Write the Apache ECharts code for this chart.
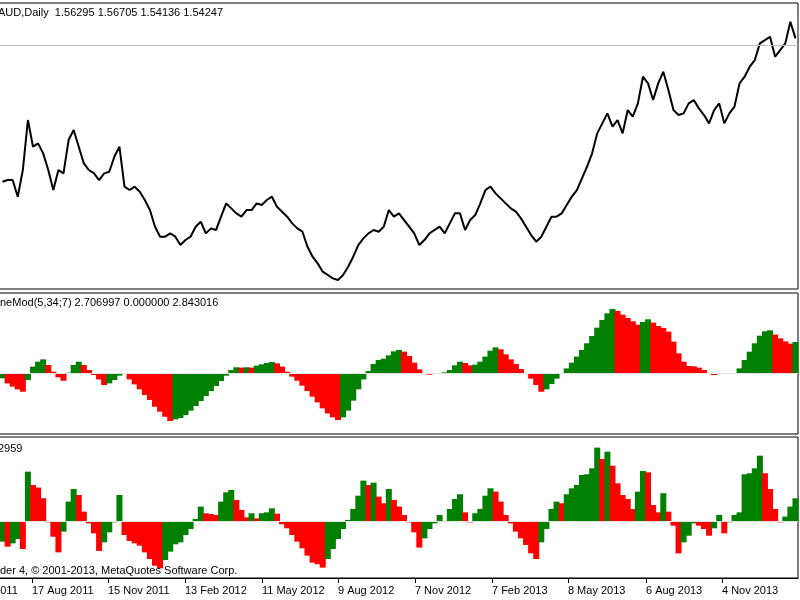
<html>

<head>
    <meta charset="utf-8" />
    <style>
        html, body { margin: 0; padding: 0; background: #fff; overflow: hidden; }
    </style>
</head>

<body>
    <!-- the chart is 50px wider than the page and shifted left, so the first date label is cut like in the original -->
    <div id="chart" style="position:absolute;left:-50px;top:0;width:850px;height:600px"></div>
    <script src="https://cdn.jsdelivr.net/npm/echarts@6/dist/echarts.min.js"></script>
    <script>
        // close price, one point every ~5px of the picture
        var priceClose = [
            1.3277, 1.3303, 1.3303, 1.3043, 1.3459, 1.4239, 1.3823, 1.3875, 1.3719, 1.3459,
            1.3147, 1.3459, 1.3407, 1.3927, 1.4083, 1.3823, 1.3563, 1.3459, 1.3407, 1.3303,
            1.3407, 1.3433, 1.3667, 1.3823, 1.3199, 1.3147, 1.3199, 1.3121, 1.2991, 1.2835,
            1.2575, 1.2419, 1.2419, 1.2471, 1.2419, 1.2289, 1.2367, 1.2419, 1.2575, 1.2653,
            1.2471, 1.2549, 1.2523, 1.2731, 1.2939, 1.2861, 1.2783, 1.2731, 1.2835, 1.2835,
            1.2939, 1.2913, 1.2991, 1.3043, 1.2887, 1.2809, 1.2731, 1.2627, 1.2549, 1.2497,
            1.2263, 1.2107, 1.2003, 1.1873, 1.1821, 1.1769, 1.1743, 1.1821, 1.1951, 1.2107,
            1.2289, 1.2393, 1.2471, 1.2523, 1.2497, 1.2575, 1.2835, 1.2731, 1.2783, 1.2679,
            1.2575, 1.2471, 1.2289, 1.2367, 1.2471, 1.2523, 1.2575, 1.2471, 1.2627, 1.2783,
            1.2783, 1.2523, 1.2679, 1.2757, 1.2939, 1.3147, 1.3199, 1.3095, 1.3017, 1.2939,
            1.2861, 1.2809, 1.2705, 1.2575, 1.2445, 1.2341, 1.2419, 1.2575, 1.2731, 1.2731,
            1.2783, 1.2913, 1.3043, 1.3147, 1.3329, 1.3511, 1.3719, 1.4031, 1.4187, 1.4343,
            1.4135, 1.4239, 1.4031, 1.4395, 1.4291, 1.4499, 1.4915, 1.4811, 1.4551, 1.4811,
            1.4993, 1.4707, 1.4395, 1.4317, 1.4343, 1.4499, 1.4551, 1.4421, 1.4317, 1.4187,
            1.4395, 1.4499, 1.4187, 1.4343, 1.4447, 1.4811, 1.4915, 1.5071, 1.5175, 1.5435,
            1.5487, 1.5539, 1.5227, 1.5331, 1.5435, 1.5773, 1.5513
        ];
        // AwesomeMod(5,34;7)
        var aoValues = [
            -0.45, -0.91, -1.21, -1.45, -1.67, -0.61, 0.61, 1.06, 1.27, 0.76,
            0.15, -0.36, -0.67, 0.06, 0.76, 1.06, 0.76, 0.30, -0.15, -0.55,
            -1.06, -0.91, -0.61, -0.21, -0.03, -0.55, -1.00, -1.45, -1.97, -2.42,
            -3.03, -3.48, -3.94, -4.33, -4.18, -4.06, -3.79, -3.39, -2.97, -2.52,
            -2.06, -1.61, -1.15, -0.70, -0.21, 0.30, 0.55, 0.52, 0.55, 0.52,
            0.70, 0.82, 0.94, 1.03, 0.91, 0.61, 0.15, -0.30, -0.67, -1.12,
            -1.61, -2.12, -2.64, -3.18, -3.64, -4.00, -4.24, -4.00, -3.39, -2.48,
            -1.45, -0.55, 0.21, 0.85, 1.21, 1.33, 1.64, 2.00, 2.12, 1.97,
            1.58, 0.97, 0.36, -0.06, -0.12, -0.06, 0.03, 0.09, 0.30, 0.73,
            1.06, 0.94, 0.73, 0.79, 1.06, 1.52, 2.06, 2.36, 2.18, 1.73,
            1.27, 0.85, 0.39, -0.06, -0.48, -1.06, -1.67, -1.45, -0.97, -0.48,
            0.00, 0.45, 0.97, 1.52, 2.12, 2.73, 3.39, 4.15, 4.85, 5.45,
            5.85, 5.67, 5.33, 5.03, 4.73, 4.42, 4.67, 4.91, 4.61, 4.30,
            4.12, 3.79, 2.88, 1.82, 1.06, 0.67, 0.64, 0.52, 0.30, 0.00,
            -0.15, -0.03, -0.06, 0.00, 0.00, 0.45, 1.21, 1.97, 2.73, 3.42,
            3.82, 3.91, 3.52, 3.18, 2.91, 2.70, 2.85
        ];
        // lower oscillator
        var acValues = [
            -0.0198, -0.0248, -0.0215, -0.0172, -0.0271, 0.0495, 0.0363, 0.0337, 0.0231, -0.0007,
            -0.0149, -0.0304, -0.0099, 0.0198, 0.0323, 0.0264, 0.0099, -0.0017, -0.0116, -0.0290,
            -0.0205, -0.0106, -0.0007, 0.0264, -0.0132, -0.0191, -0.0215, -0.0238, -0.0304, -0.0370,
            -0.0436, -0.0462, -0.0380, -0.0297, -0.0224, -0.0205, -0.0132, -0.0073, 0.0026, 0.0149,
            0.0083, 0.0076, 0.0066, 0.0198, 0.0290, 0.0314, 0.0215, 0.0116, 0.0043, 0.0083,
            0.0033, 0.0083, 0.0092, 0.0132, 0.0079, -0.0026, -0.0066, -0.0132, -0.0198, -0.0264,
            -0.0337, -0.0406, -0.0422, -0.0455, -0.0370, -0.0271, -0.0172, -0.0073, 0.0017, 0.0125,
            0.0257, 0.0406, 0.0363, 0.0386, 0.0248, 0.0182, 0.0323, 0.0215, 0.0149, 0.0066,
            -0.0007, -0.0106, -0.0257, -0.0165, -0.0073, -0.0017, 0.0066, 0.0007, 0.0125, 0.0224,
            0.0271, 0.0092, -0.0007, 0.0083, 0.0125, 0.0257, 0.0330, 0.0297, 0.0198, 0.0066,
            -0.0017, -0.0099, -0.0165, -0.0231, -0.0314, -0.0370, -0.0205, -0.0073, 0.0125, 0.0198,
            0.0182, 0.0271, 0.0330, 0.0363, 0.0462, 0.0469, 0.0528, 0.0733, 0.0620, 0.0693,
            0.0554, 0.0380, 0.0264, 0.0224, 0.0125, 0.0297, 0.0502, 0.0488, 0.0165, 0.0092,
            0.0281, 0.0099, -0.0040, -0.0314, -0.0205, -0.0139, -0.0017, -0.0040, -0.0073, -0.0139,
            -0.0066, 0.0066, -0.0116, -0.0007, 0.0066, 0.0092, 0.0469, 0.0479, 0.0528, 0.0653,
            0.0479, 0.0323, 0.0125, -0.0007, 0.0050, 0.0149, 0.0231
        ];
        // date labels and where they sit on the bar index scale
        var tickDates = ['19 May 2011', '17 Aug 2011', '15 Nov 2011', '13 Feb 2012', '11 May 2012', '9 Aug 2012',
            '7 Nov 2012', '7 Feb 2013', '8 May 2013', '6 Aug 2013', '4 Nov 2013'];
        var tickAt = [-9.35, 5.8, 20.75, 35.9, 51.04, 66.0, 81.14, 96.29, 111.24, 126.59, 141.54];
        var bidPrice = 1.5425;

        var FONT = 'Liberation Sans';
        var xMin = -10.33, xMax = 156.5;
        var SHIFT = 50; // chart canvas starts 50px left of the page

        function indexed(arr) {
            return arr.map(function (v, i) { return [i, v]; });
        }
        function upDown(arr) {
            return function (p) {
                var i = p.dataIndex;
                if (i === 0) return arr[1] > arr[0] ? '#ff0000' : '#008000';
                return arr[i] >= arr[i - 1] ? '#008000' : '#ff0000';
            };
        }
        function zeroLine() {
            return {
                silent: true, symbol: 'none', animation: false,
                label: { show: false },
                lineStyle: { color: '#e4e4e4', width: 1, type: 'solid' },
                data: [{ yAxis: 0 }]
            };
        }

        var chart = echarts.init(document.getElementById('chart'), null, { renderer: 'canvas' });
        var hiddenX = { type: 'value', min: xMin, max: xMax, show: false };
        var option = {
            animation: false,
            backgroundColor: '#ffffff',
            grid: [
                { left: 0, right: 2, top: 3, height: 286, show: true, borderColor: '#000', borderWidth: 1, backgroundColor: '#fff' },
                { left: 0, right: 2, top: 293, height: 141, show: true, borderColor: '#000', borderWidth: 1, backgroundColor: '#fff' },
                { left: 0, right: 2, top: 437, height: 141, show: true, borderColor: '#000', borderWidth: 1, backgroundColor: '#fff' }
            ],
            xAxis: [
                Object.assign({ gridIndex: 0 }, hiddenX),
                Object.assign({ gridIndex: 1 }, hiddenX),
                {
                    gridIndex: 2, type: 'value', min: xMin, max: xMax, position: 'bottom',
                    splitLine: { show: false },
                    axisLine: { show: true, onZero: false, lineStyle: { color: '#000', width: 1 } },
                    axisTick: { show: true, inside: false, customValues: tickAt, length: 5, lineStyle: { color: '#000' } },
                    axisLabel: {
                        customValues: tickAt, align: 'left', margin: 7,
                        fontFamily: FONT, fontSize: 11, color: '#000',
                        formatter: function (v) {
                            var best = 0;
                            for (var i = 1; i < tickAt.length; i++) {
                                if (Math.abs(tickAt[i] - v) < Math.abs(tickAt[best] - v)) best = i;
                            }
                            return tickDates[best];
                        }
                    }
                }
            ],
            yAxis: [
                { gridIndex: 0, type: 'value', min: 1.1603, max: 1.6065, show: false },
                { gridIndex: 1, type: 'value', min: -5.51, max: 7.30, show: false },
                { gridIndex: 2, type: 'value', min: -0.0558, max: 0.0838, show: false }
            ],
            series: [
                {
                    type: 'line', xAxisIndex: 0, yAxisIndex: 0,
                    data: indexed(priceClose),
                    showSymbol: false, symbol: 'none',
                    lineStyle: { color: '#000', width: 2 },
                    markLine: {
                        silent: true, symbol: 'none', label: { show: false },
                        lineStyle: { color: '#c0c0c0', width: 1, type: 'solid' },
                        data: [{ yAxis: bidPrice }]
                    }
                },
                {
                    type: 'bar', xAxisIndex: 1, yAxisIndex: 1,
                    data: indexed(aoValues), barWidth: 6,
                    itemStyle: { color: upDown(aoValues) },
                    markLine: zeroLine()
                },
                {
                    type: 'bar', xAxisIndex: 2, yAxisIndex: 2,
                    data: indexed(acValues), barWidth: 6,
                    itemStyle: { color: upDown(acValues) },
                    markLine: zeroLine()
                }
            ],
            graphic: [
                { type: 'text', left: SHIFT - 2, top: 7, z: 100, style: { text: 'AUD,Daily  1.56295 1.56705 1.54136 1.54247', font: '11px ' + FONT, fill: '#000' } },
                { type: 'text', left: SHIFT, top: 297, z: 100, style: { text: 'neMod(5,34;7) 2.706997 0.000000 2.843016', font: '11px ' + FONT, fill: '#000' } },
                { type: 'text', left: SHIFT - 2, top: 443, z: 100, style: { text: '2959', font: '11px ' + FONT, fill: '#000' } },
                { type: 'text', left: SHIFT, top: 565, z: 100, style: { text: 'der 4, \u00a9 2001-2013, MetaQuotes Software Corp.', font: '11px ' + FONT, fill: '#000' } }
            ]
        };
        chart.setOption(option);
    </script>
</body>

</html>
